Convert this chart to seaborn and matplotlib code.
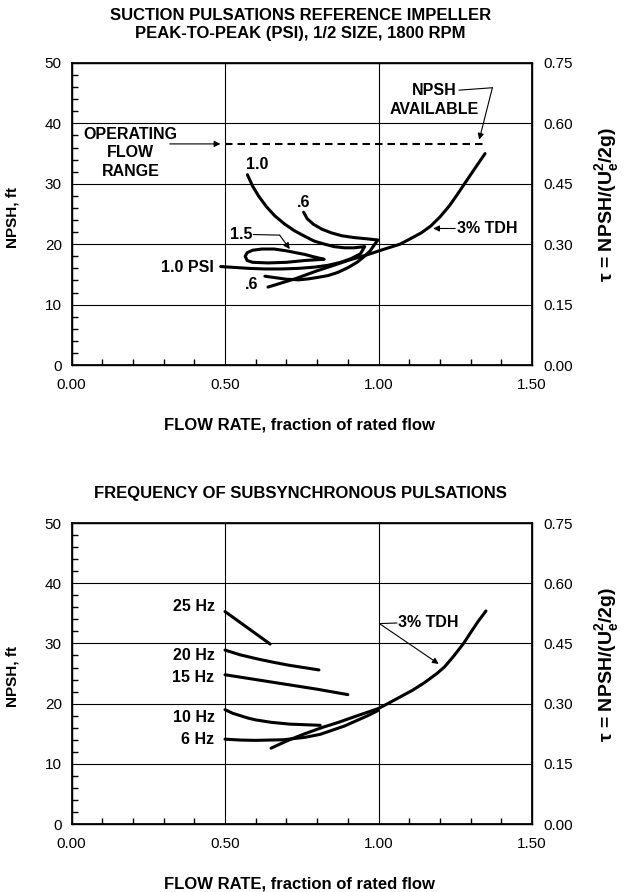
import matplotlib
matplotlib.use("Agg")
import matplotlib.pyplot as plt
import seaborn as sns
from matplotlib.ticker import MultipleLocator, FormatStrFormatter

# ---- values ----
flow_ticks = [0.0, 0.5, 1.0, 1.5]
flow_labels = ["0.00", "0.50", "1.00", "1.50"]
npsh_ticks = [0, 10, 20, 30, 40, 50]
tau_ticks = [0.00, 0.15, 0.30, 0.45, 0.60, 0.75]

# top panel: peak-to-peak pulsation contours (PSI)
psi10_x = [0.573, 0.590, 0.609, 0.635, 0.662, 0.695, 0.727, 0.760, 0.791, 0.825, 0.855, 0.890, 0.920,
           0.955, 0.941, 0.910, 0.877, 0.835, 0.791, 0.740, 0.684, 0.630, 0.577, 0.486]
psi10_y = [31.5, 29.6, 28.0, 26.2, 24.7, 23.3, 22.2, 21.3, 20.5, 20.0, 19.6, 19.4, 19.4,
           19.6, 18.4, 17.6, 17.0, 16.5, 16.2, 16.0, 15.9, 15.9, 16.0, 16.3]
psi06_x = [0.756, 0.768, 0.788, 0.815, 0.845, 0.880, 0.920, 0.960, 0.998,
           0.985, 0.973, 0.952, 0.930, 0.900, 0.866, 0.835, 0.802, 0.770, 0.740, 0.700, 0.630]
psi06_y = [25.3, 24.2, 23.3, 22.5, 21.9, 21.4, 21.1, 20.9, 20.7,
           19.8, 18.9, 17.9, 17.0, 16.1, 15.3, 14.8, 14.5, 14.25, 14.1, 14.2, 14.7]
psi15_x = [0.566, 0.572, 0.59, 0.62, 0.66, 0.70, 0.73, 0.76, 0.79, 0.823,
           0.79, 0.76, 0.70, 0.64, 0.59, 0.572, 0.566]
psi15_y = [18.0, 18.6, 19.0, 19.2, 19.2, 18.9, 18.6, 18.3, 17.9, 17.5,
           17.4, 17.3, 17.0, 16.9, 17.0, 17.3, 18.0]
npsh_available = 36.6
npsh_available_x = [0.5, 1.346]
tdh_top_x = [0.64, 0.73, 0.80, 0.86, 0.90, 0.96, 1.02, 1.07, 1.10, 1.14, 1.17, 1.20, 1.23, 1.255,
             1.28, 1.30, 1.32, 1.347]
tdh_top_y = [12.9, 14.3, 15.6, 16.6, 17.3, 18.2, 19.2, 20.0, 20.8, 21.9, 23.0, 24.5, 26.3, 28.1,
             30.0, 31.5, 33.0, 35.0]

# bottom panel: frequency of subsynchronous pulsations
hz25_x = [0.5, 0.647]
hz25_y = [35.3, 29.9]
hz20_x = [0.5, 0.55, 0.608, 0.655, 0.706, 0.756, 0.806]
hz20_y = [28.9, 28.1, 27.4, 26.9, 26.4, 26.0, 25.6]
hz15_x = [0.5, 0.6, 0.7, 0.8, 0.9]
hz15_y = [24.8, 24.0, 23.2, 22.4, 21.5]
hz10_x = [0.5, 0.525, 0.55, 0.575, 0.60, 0.65, 0.71, 0.76, 0.81]
hz10_y = [19.0, 18.4, 18.0, 17.6, 17.3, 16.9, 16.6, 16.5, 16.4]
hz06_x = [0.5, 0.55, 0.6, 0.69, 0.76, 0.81, 0.85, 0.89, 0.925, 0.965, 1.0]
hz06_y = [14.1, 13.95, 13.9, 14.0, 14.4, 14.9, 15.6, 16.3, 17.1, 18.0, 18.9]
tdh_bot_x = [0.65, 0.71, 0.76, 0.82, 0.87, 0.92, 0.96, 1.00, 1.03, 1.07, 1.11, 1.15, 1.19, 1.215,
             1.245, 1.277, 1.30, 1.325, 1.35]
tdh_bot_y = [12.6, 14.0, 15.0, 16.1, 16.9, 17.8, 18.5, 19.2, 20.0, 21.1, 22.2, 23.5, 25.0, 26.1,
             27.9, 30.0, 31.8, 33.7, 35.4]
hz_labels = ["25 Hz", "20 Hz", "15 Hz", "10 Hz", "6 Hz"]
hz_label_y = [36.1, 28.0, 24.4, 17.7, 14.1]

sns.set_theme(style="white")
plt.rcParams["font.family"] = ["Liberation Sans", "DejaVu Sans"]
for k in ["text.color", "axes.labelcolor", "xtick.color", "ytick.color", "axes.edgecolor"]:
    plt.rcParams[k] = "black"

fig = plt.figure(figsize=(6.29, 8.92), dpi=100)
ax_top = fig.add_axes([0.1137, 0.5908, 0.7321, 0.3386])
ax_bot = fig.add_axes([0.1137, 0.0762, 0.7321, 0.3374])

BOLD = dict(fontsize=11.5, fontweight="bold")
ARROW = dict(arrowstyle="-|>", color="black", lw=0.8, mutation_scale=9, shrinkA=0, shrinkB=0)


def style_axes(ax):
    ax.set_xlim(0, 1.5)
    ax.set_ylim(0, 50)
    ax.set_xticks(flow_ticks)
    ax.set_xticklabels(flow_labels)
    ax.set_yticks(npsh_ticks)
    ax.xaxis.set_minor_locator(MultipleLocator(0.1))
    ax.yaxis.set_minor_locator(MultipleLocator(2))
    ax.tick_params(which="major", length=0, labelsize=11)
    ax.tick_params(axis="x", which="major", pad=9)
    ax.tick_params(axis="y", which="major", pad=7)
    ax.tick_params(which="minor", direction="in", length=4.5, width=1,
                   bottom=True, left=True, top=False, right=False)
    ax.grid(True, which="major", color="black", lw=0.8)
    for s in ax.spines.values():
        s.set_color("black")
        s.set_linewidth(1.0)
    ax.set_xlabel("FLOW RATE, fraction of rated flow", fontsize=12, fontweight="bold")
    ax.xaxis.set_label_coords(0.496, -0.175)
    ax.set_ylabel("NPSH, ft", fontsize=11, fontweight="bold")
    ax.yaxis.set_label_coords(-0.112, 0.49)

    tw = ax.twinx()
    tw.set_ylim(0, 0.75)
    tw.set_yticks(tau_ticks)
    tw.yaxis.set_major_formatter(FormatStrFormatter("%.2f"))
    tw.tick_params(length=0, labelsize=11, pad=8)
    tw.grid(False)
    tw.set_ylabel("τ = NPSH/(U$_\\mathregular{e}^\\mathregular{2}$/2g)", fontsize=14, fontweight="bold",
                  rotation=90, va="center")
    tw.yaxis.set_label_coords(1.165, 0.53)
    return tw


def curve(ax, xs, ys, **kw):
    sns.lineplot(x=xs, y=ys, sort=False, estimator=None, color="black",
                 linewidth=kw.pop("linewidth", 2.2), solid_joinstyle="round",
                 solid_capstyle="round", ax=ax, **kw)


# ---- top panel ----
style_axes(ax_top)
curve(ax_top, psi10_x, psi10_y)
curve(ax_top, psi06_x, psi06_y)
curve(ax_top, psi15_x, psi15_y)
curve(ax_top, tdh_top_x, tdh_top_y)
curve(ax_top, npsh_available_x, [npsh_available] * 2, linewidth=1.5, dashes=(3.6, 2.4))

ax_top.text(0.606, 33.2, "1.0", ha="center", va="center", **BOLD)
ax_top.text(0.756, 26.9, ".6", ha="center", va="center", **BOLD)
ax_top.text(0.59, 21.6, "1.5", ha="right", va="center", **BOLD)
ax_top.plot([0.592, 0.678], [21.6, 21.5], color="black", lw=0.8)
ax_top.annotate("", xy=(0.711, 19.2), xytext=(0.678, 21.5), arrowprops=ARROW)
ax_top.text(0.465, 16.1, "1.0 PSI", ha="right", va="center", **BOLD)
ax_top.text(0.587, 13.3, ".6", ha="center", va="center", **BOLD)
ax_top.text(0.192, 35.1, "OPERATING\nFLOW\nRANGE", ha="center", va="center",
            linespacing=1.3, **BOLD)
ax_top.annotate("", xy=(0.485, npsh_available), xytext=(0.32, npsh_available), arrowprops=ARROW)
ax_top.text(1.18, 43.9, "NPSH\nAVAILABLE", ha="center", va="center", linespacing=1.3, **BOLD)
ax_top.plot([1.262, 1.371], [45.5, 45.9], color="black", lw=0.8)
ax_top.annotate("", xy=(1.328, 37.3), xytext=(1.371, 45.9), arrowprops=ARROW)
ax_top.text(1.255, 22.6, "3% TDH", ha="left", va="center", **BOLD)
ax_top.annotate("", xy=(1.178, 22.6), xytext=(1.25, 22.6), arrowprops=ARROW)

fig.text(0.478, 0.983, "SUCTION PULSATIONS REFERENCE IMPELLER", ha="center", va="center",
         fontsize=12, fontweight="bold")
fig.text(0.478, 0.963, "PEAK-TO-PEAK (PSI), 1/2 SIZE, 1800 RPM", ha="center", va="center",
         fontsize=12, fontweight="bold")

# ---- bottom panel ----
style_axes(ax_bot)
for xs, ys in [(hz25_x, hz25_y), (hz20_x, hz20_y), (hz15_x, hz15_y),
               (hz10_x, hz10_y), (hz06_x, hz06_y), (tdh_bot_x, tdh_bot_y)]:
    curve(ax_bot, xs, ys)
for lab, yy in zip(hz_labels, hz_label_y):
    ax_bot.text(0.466, yy, lab, ha="right", va="center", **BOLD)
ax_bot.text(1.065, 33.4, "3% TDH", ha="left", va="center", **BOLD)
ax_bot.plot([1.003, 1.06], [33.3, 33.4], color="black", lw=0.8)
ax_bot.annotate("", xy=(1.196, 26.6), xytext=(1.003, 33.3), arrowprops=ARROW)

fig.text(0.478, 0.447, "FREQUENCY OF SUBSYNCHRONOUS PULSATIONS", ha="center", va="center",
         fontsize=12, fontweight="bold")

fig.savefig("out.png", dpi=100, facecolor="white")
